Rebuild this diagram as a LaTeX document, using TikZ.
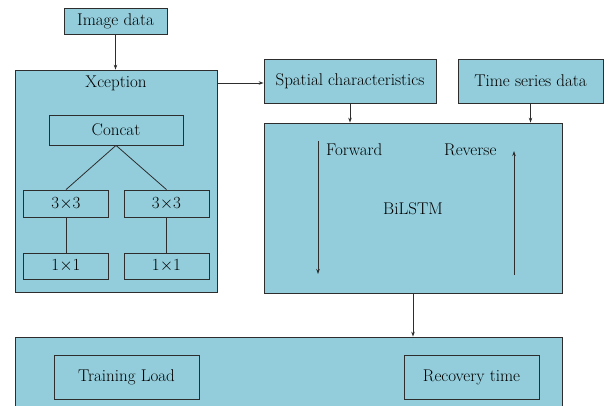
\documentclass[tikz,border=0pt]{standalone}
\usetikzlibrary{arrows.meta}
\definecolor{boxfill}{RGB}{147,205,219}
\definecolor{boxline}{RGB}{45,45,45}
\begin{document}
\begin{tikzpicture}[x=1pt,y=-1pt,
  box/.style={draw=boxline, fill=boxfill, line width=0.8pt, inner sep=0pt, font=\fontsize{17}{20}\selectfont},
  lbl/.style={inner sep=0pt, font=\fontsize{17}{20}\selectfont},
  conn/.style={draw=boxline, line width=0.8pt},
  arr/.style={conn, -{Stealth[length=5pt,width=3.5pt]}}]
\useasboundingbox (0,0) rectangle (609,405);
\clip (0,0) rectangle (609,405);
% Input
\node[box, minimum width=103pt, minimum height=26pt] (img) at (115.5,21) {Image data};
% Xception container
\node[box, minimum width=202pt, minimum height=222pt] (xcep) at (116,181) {};
\node[lbl] (xlab) at (116,83) {Xception};
\node[box, minimum width=134pt, minimum height=30pt] (concat) at (116,130) {Concat};
\node[box, minimum width=84.5pt, minimum height=27pt] (c3l) at (66,203.5) {3$\times$3};
\node[box, minimum width=85pt, minimum height=27pt] (c3r) at (166.5,203.5) {3$\times$3};
\node[box, minimum width=84.5pt, minimum height=26pt] (c1l) at (66,266) {1$\times$1};
\node[box, minimum width=85pt, minimum height=26pt] (c1r) at (166.5,266) {1$\times$1};
% Spatial & time
\node[box, minimum width=172pt, minimum height=44pt] (sp) at (350,81) {Spatial characteristics};
\node[box, minimum width=145pt, minimum height=44pt] (ts) at (530.5,81) {Time series data};
% BiLSTM
\node[box, minimum width=298pt, minimum height=170pt] (bil) at (413,208) {};
\node[lbl] (bilab) at (413,209) {BiLSTM};
\node[lbl, anchor=west] (fw) at (326,150) {Forward};
\node[lbl, anchor=west] (rv) at (444,150) {Reverse};
\coordinate (fwtop) at (318,141);
\coordinate (fwbot) at (318,274);
\coordinate (rvbot) at (514,275);
\coordinate (rvtop) at (514,151);
% Output
\node[box, minimum width=547pt, minimum height=90pt] (out) at (288.5,382) {};
\node[box, minimum width=145pt, minimum height=44pt] (tl) at (126.5,377) {Training Load};
\node[box, minimum width=135pt, minimum height=44pt] (rt) at (471.5,377) {Recovery time};
% Connectors
\draw[arr] (img.south) -- (img.south |- xcep.north);
\draw[arr] (xcep.east |- 0,83) -- (sp.west |- 0,83);
\draw[conn] (concat.south) -- (c3l.north);
\draw[conn] (concat.south) -- (c3r.north);
\draw[conn] (c3l.south) -- (c1l.north);
\draw[conn] (c3r.south) -- (c1r.north);
\draw[arr] (sp.south) -- (sp.south |- bil.north);
\draw[arr] (ts.south) -- (ts.south |- bil.north);
\draw[arr] (fwtop) -- (fwbot);
\draw[arr] (rvbot) -- (rvtop);
\draw[arr] (bil.south) -- (bil.south |- out.north);
\end{tikzpicture}
\end{document}
